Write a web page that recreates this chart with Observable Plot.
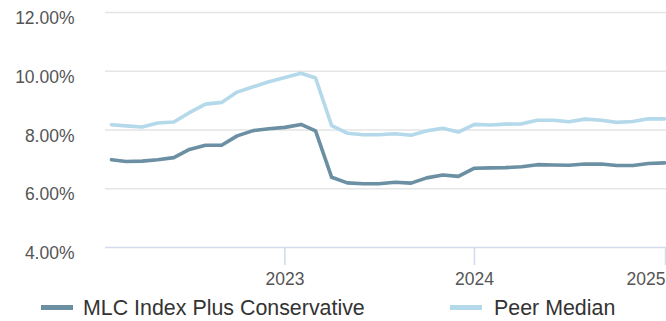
<!DOCTYPE html>
<html>
<head>
<meta charset="utf-8">
<script src="https://cdn.jsdelivr.net/npm/d3@7"></script>
<script src="https://cdn.jsdelivr.net/npm/@observablehq/plot@0.6"></script>
<style>
  html, body { margin: 0; padding: 0; background: #fff; }
  #wrap { position: relative; width: 666px; height: 321px; font-family: "Liberation Sans", Arial, sans-serif; }
  .sw { position: absolute; top: 305px; width: 32px; height: 5px; }
  .lt { position: absolute; top: 298px; font-size: 21.4px; line-height: 21.4px; color: #333; white-space: nowrap; }
</style>
</head>
<body>
<div id="wrap">
  <div id="chart"></div>
  <div class="sw" style="left:41px;background:#6b8fa3"></div>
  <div class="lt" id="l0" style="left:83px"></div>
  <div class="sw" style="left:450px;background:#b4d9ea"></div>
  <div class="lt" id="l1" style="left:494px"></div>
</div>
<script>
const seriesNames = ["MLC Index Plus Conservative", "Peer Median"];
const months = ["2022-02","2022-03","2022-04","2022-05","2022-06","2022-07","2022-08","2022-09","2022-10","2022-11","2022-12",
  "2023-01","2023-02","2023-03","2023-04","2023-05","2023-06","2023-07","2023-08","2023-09","2023-10","2023-11","2023-12",
  "2024-01","2024-02","2024-03","2024-04","2024-05","2024-06","2024-07","2024-08","2024-09","2024-10","2024-11","2024-12",
  "2025-01"];
const mlc = [6.99,6.93,6.94,6.99,7.06,7.34,7.48,7.48,7.80,7.98,8.04,
  8.09,8.19,7.97,6.39,6.20,6.17,6.17,6.22,6.19,6.37,6.47,6.42,
  6.70,6.71,6.72,6.75,6.82,6.81,6.80,6.84,6.84,6.79,6.79,6.86,
  6.88];
const peer = [8.18,8.14,8.10,8.24,8.27,8.59,8.88,8.94,9.29,9.47,9.64,
  9.79,9.93,9.77,8.15,7.89,7.84,7.84,7.87,7.82,7.97,8.06,7.93,
  8.19,8.17,8.20,8.21,8.33,8.33,8.28,8.37,8.33,8.26,8.29,8.38,
  8.38];
const yTicks = [4, 6, 8, 10, 12];
const xTickLabels = ["2023", "2024", "2025"];
const colors = ["#6b8fa3", "#b4d9ea"];

const parse = d3.utcParse("%Y-%m");
const rows = [];
months.forEach((m, i) => {
  rows.push({date: parse(m), value: mlc[i], series: seriesNames[0]});
  rows.push({date: parse(m), value: peer[i], series: seriesNames[1]});
});
const xTicks = xTickLabels.map(y => d3.utcParse("%Y")(y));

document.getElementById("l0").textContent = seriesNames[0];
document.getElementById("l1").textContent = seriesNames[1];

const chart = Plot.plot({
  width: 666,
  height: 288,
  marginTop: 12,
  marginBottom: 41,
  marginLeft: 105,
  marginRight: 0,
  style: {fontFamily: "'Liberation Sans', Arial, sans-serif", fontSize: "17.5px", color: "#555", background: "#fff"},
  x: {type: "utc", insetLeft: 6, insetRight: 2, domain: [rows[0].date, rows[rows.length - 1].date]},
  y: {domain: [4, 12]},
  color: {domain: seriesNames, range: colors},
  marks: [
    Plot.ruleY(yTicks.filter(d => d !== 4), {stroke: "#e5e5e5", strokeWidth: 1.6}),
    Plot.ruleY([4], {stroke: "#d3dcec", strokeWidth: 1.6}),
    Plot.axisY(yTicks, {tickSize: 0, tickPadding: 31, dy: 6, tickFormat: d => d.toFixed(2) + "%", fill: "#555", label: null}),
    Plot.axisX(xTicks.slice(0, -1), {tickSize: 18, tickPadding: 7, stroke: "#d3dcec", strokeWidth: 1.6, fill: "#555", tickFormat: d3.utcFormat("%Y"), label: null}),
    Plot.axisX(xTicks.slice(-1), {tickSize: 18, tickPadding: 7, stroke: "#d3dcec", strokeWidth: 1.6, fill: "#555", textAnchor: "end", dx: 1, tickFormat: d3.utcFormat("%Y"), label: null}),
    Plot.line(rows, {x: "date", y: "value", z: "series", stroke: "series", strokeWidth: 3.6, curve: "linear"})
  ]
});
document.getElementById("chart").appendChild(chart);
</script>
</body>
</html>
